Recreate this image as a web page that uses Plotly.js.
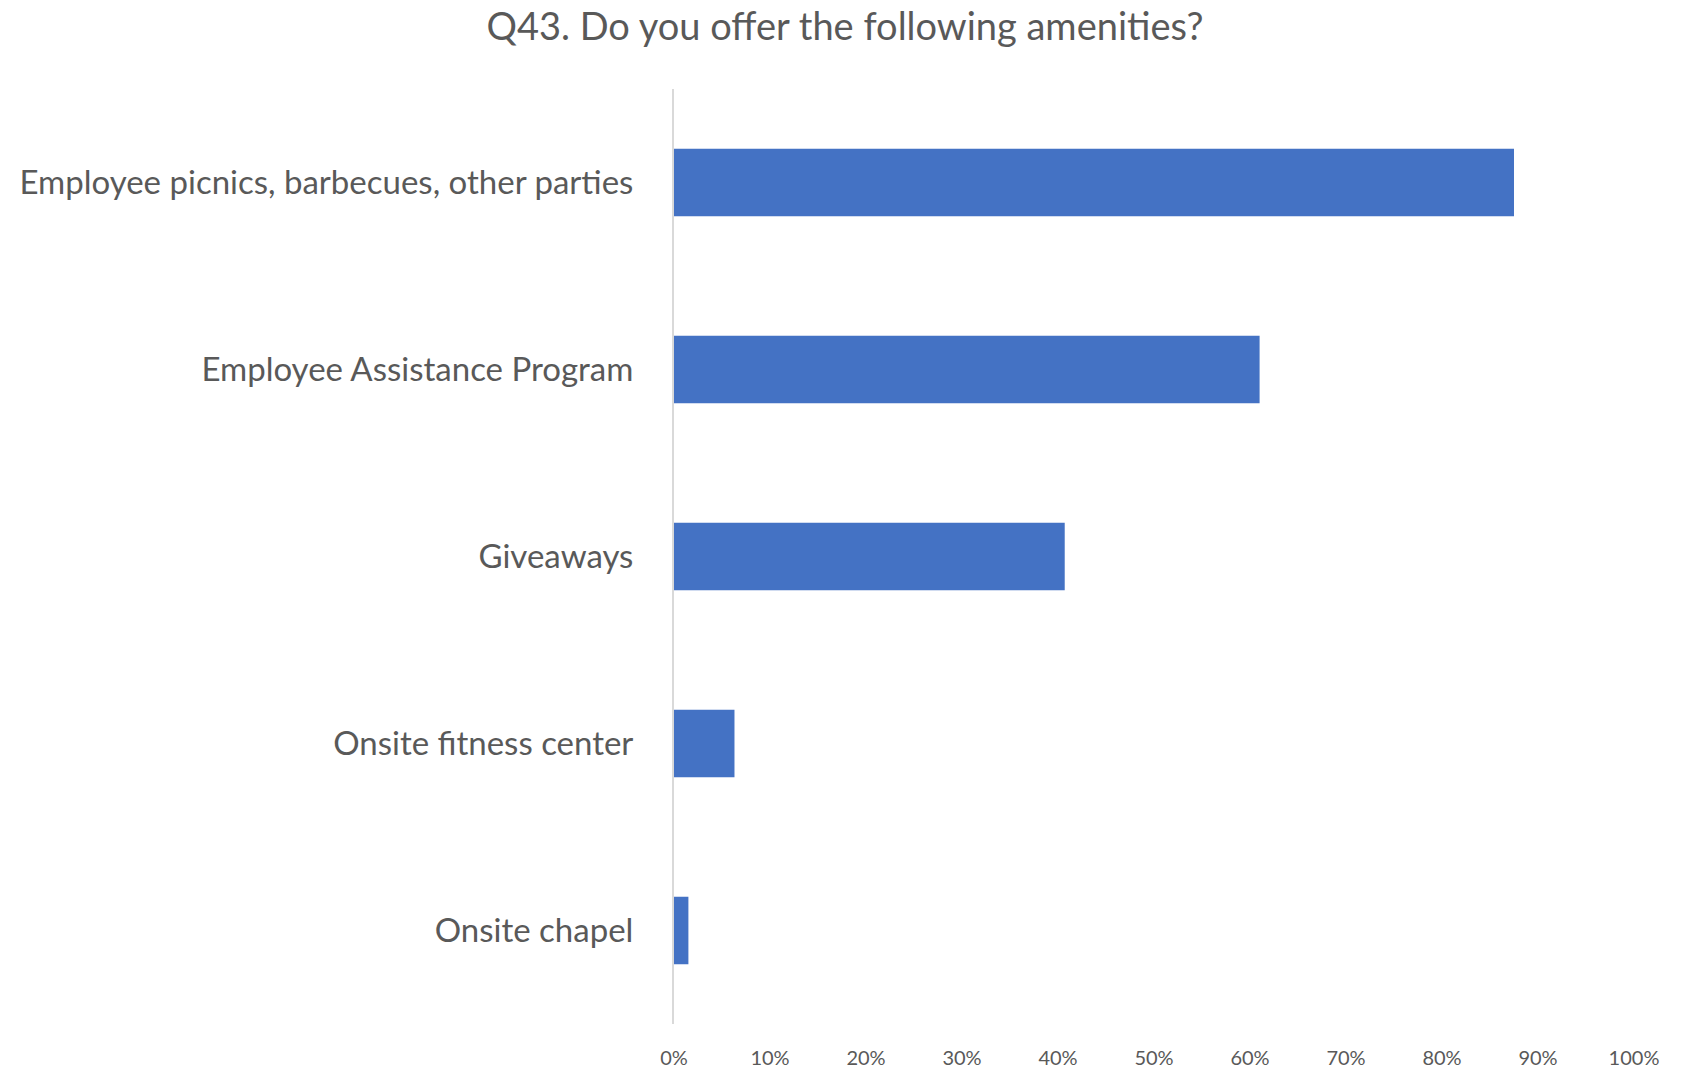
<!DOCTYPE html>
<html>
<head>
<meta charset="utf-8">
<script src="https://cdn.plot.ly/plotly-3.0.1.min.js"></script>
<style>html,body{margin:0;padding:0;background:#fff;}#chart{width:1690px;height:1071px;}</style>
</head>
<body>
<div id="chart"></div>
<script>
const categories = [
  "Employee picnics, barbecues, other parties",
  "Employee Assistance Program",
  "Giveaways",
  "Onsite fitness center",
  "Onsite chapel"
];
const percentages = [87.5, 61.0, 40.7, 6.3, 1.5];
const tickValues = [0, 10, 20, 30, 40, 50, 60, 70, 80, 90, 100];
const tickLabels = ["0%", "10%", "20%", "30%", "40%", "50%", "60%", "70%", "80%", "90%", "100%"];
const chartTitle = "Q43. Do you offer the following amenities?";

const trace = {
  type: "bar",
  orientation: "h",
  x: percentages,
  y: categories,
  marker: {color: "#4472C4"},
  hoverinfo: "x+y"
};

const layout = {
  width: 1690,
  height: 1071,
  paper_bgcolor: "#ffffff",
  plot_bgcolor: "#ffffff",
  font: {family: "Lato, 'Open Sans', sans-serif", color: "#595959"},
  title: {
    text: chartTitle,
    font: {size: 38, color: "#595959", family: "Lato, sans-serif"},
    x: 0.5, xanchor: "center",
    y: 0.975, yanchor: "middle"
  },
  margin: {l: 674, r: 56, t: 89, b: 47},
  bargap: 0.64,
  showlegend: false,
  xaxis: {
    range: [0, 100],
    tickvals: tickValues,
    ticktext: tickLabels,
    showgrid: false,
    zeroline: false,
    showline: false,
    ticks: "",
    tickfont: {size: 20, color: "#595959"},
    ticklabelstandoff: 20,
    fixedrange: true
  },
  yaxis: {
    autorange: "reversed",
    showgrid: false,
    zeroline: false,
    showline: true,
    linecolor: "#d9d9d9",
    linewidth: 2,
    ticks: "",
    tickfont: {size: 33, color: "#595959"},
    ticklabelstandoff: 32,
    fixedrange: true
  }
};

Plotly.newPlot("chart", [trace], layout, {displayModeBar: false, staticPlot: true});
</script>
</body>
</html>
